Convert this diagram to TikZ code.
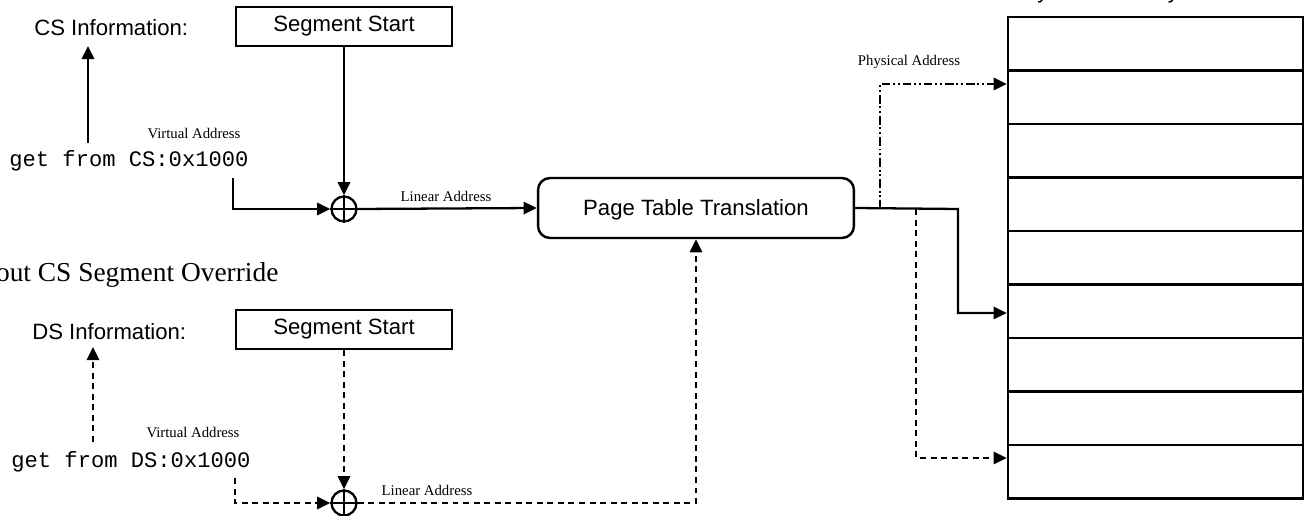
\documentclass[tikz,border=0pt]{standalone}
\usepackage{fontspec}
\setmainfont{Liberation Serif}
\setsansfont{Liberation Sans}
\setmonofont{Liberation Mono}
\usetikzlibrary{arrows.meta}
\begin{document}
\begin{tikzpicture}[x=0.02cm,y=-0.02cm,
  ln/.style={line width=1.3pt},
  arr/.style={-{Triangle[length=7.5pt,width=7pt]}},
  dsh/.style={dash pattern=on 3.4pt off 2.6pt},
  ddot/.style={dash pattern=on 5pt off 1.6pt on 1.1pt off 1.6pt on 1.1pt off 1.6pt},
  sans/.style={font=\fontsize{12.6pt}{15pt}\selectfont\sffamily},
  mono/.style={font=\fontsize{12.6pt}{15pt}\selectfont\ttfamily},
  small/.style={font=\fontsize{8.4pt}{10pt}\selectfont, inner sep=0},
  big/.style={font=\fontsize{15.6pt}{18pt}\selectfont, inner sep=0},
  txt/.style={inner sep=0, anchor=base west},
  segbox/.style={draw, line width=1.3pt, sans, minimum width=4.32cm, minimum height=0.78cm, inner sep=0},
  pttbox/.style={draw, line width=1.4pt, sans, rounded corners=0.24cm, minimum width=6.32cm, minimum height=1.2cm, inner sep=0, text depth=0.25ex},
  plus/.style={circle, draw, line width=1.3pt, minimum size=0.5cm, inner sep=0},
  memrow/.style={draw, line width=1.5pt, minimum width=5.9cm, minimum height=1.07cm, inner sep=0},
]
\useasboundingbox (0,0) rectangle (1306,516);

% ---------- memory ----------
\node[sans, txt] (memtitle) at (1010,-1) {Physical Memory};
\foreach \i in {1,...,9}
  \node[memrow] (r\i) at (1155.5,{17+53.5*(\i-0.5)}) {};

% ---------- top (CS) ----------
\node[sans, txt] (csinfo) at (34,36) {CS Information:};
\node[segbox] (segA) at (344,26.5) {Segment Start};
\node[mono, txt] (csget) at (9,167) {get from CS:0x1000};
\node[small] (vaA) at (194,133) {Virtual Address};
\node[plus] (pA) at (344,209) {};
\draw[ln] (pA.north) -- (pA.south) (pA.west) -- (pA.east);
\node[small] (laA) at (446,196) {Linear Address};
\node[pttbox] (ptt) at (696,208) {Page Table Translation};

\coordinate (csup) at (88,143);
\coordinate (cstop) at (88,46);
\draw[ln,arr] (csup) -- (cstop);
\coordinate (csva) at (233,178);
\draw[ln,arr] (csva) |- (pA.west);
\draw[ln,arr] (segA.south) -- (pA.north);
\draw[ln,arr] (pA.east) -- (ptt.west);

% ---------- outputs to memory ----------
\node[small] (paddr) at (909,62) {Physical Address};
\coordinate (j1) at (958,209);
\coordinate (j2) at (880,209);
\coordinate (j3) at (916,209);
\draw[ln,arr] (ptt.east) -- (j1) |- (r6.west |- 0,313);
\draw[ln,ddot,arr] (j2) |- (r2.west |- 0,84);
\draw[ln,dsh,arr] (j3) |- (r9.west |- 0,458);

% ---------- bottom (DS) ----------
\node[big, txt] (override) at (-58,282) {Without CS Segment Override};
\node[sans, txt] (dsinfo) at (32,340) {DS Information:};
\node[segbox] (segB) at (344,329.5) {Segment Start};
\node[mono, txt] (dsget) at (11,468) {get from DS:0x1000};
\node[small] (vaB) at (193,432) {Virtual Address};
\node[plus] (pB) at (344,503) {};
\draw[ln] (pB.north) -- (pB.south) (pB.west) -- (pB.east);
\node[small] (laB) at (427,490) {Linear Address};

\coordinate (dsup) at (93,442);
\coordinate (dstop) at (93,347);
\draw[ln,dsh,arr] (dsup) -- (dstop);
\coordinate (dsva) at (235,478);
\draw[ln,dsh,arr] (dsva) |- (pB.west);
\draw[ln,dsh,arr] (segB.south) -- (pB.north);
\draw[ln,dsh,arr] (pB.east) -| (ptt.south);
\end{tikzpicture}
\end{document}
